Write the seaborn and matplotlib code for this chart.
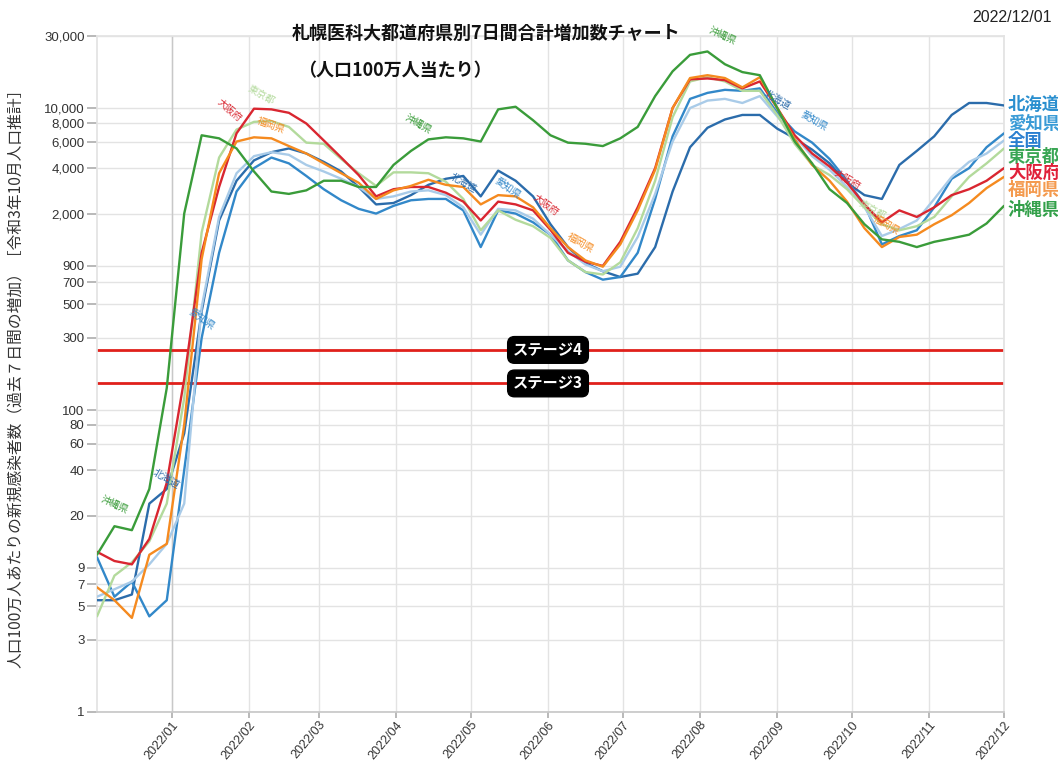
"""
Sapporo Medical Univ. prefecture chart (7-day new cases per 1M)
"""

import pandas as pd
import numpy as np
import seaborn as sns
import matplotlib as mpl
import matplotlib.pyplot as plt
import matplotlib.dates as mdates

# -----------------------------
# Data: weekly readings (cases per 1M, 7-day sum)
# -----------------------------
dates = pd.date_range('2021-12-02', '2022-12-01', freq='7D')

hokkaido = [5.5, 5.5, 6, 24, 30, 70, 450, 1800, 3300, 4500, 5100, 5400, 5000, 4400,
            3800, 3000, 2300, 2350, 2650, 3100, 3400, 3550, 2600, 3850, 3300, 2600,
            1700, 1200, 940, 830, 760, 800, 1200, 2800, 5500, 7400, 8400, 9000, 9000,
            7300, 6300, 5300, 4300, 3200, 2650, 2500, 4200, 5200, 6500, 9000, 10800,
            10800, 10400]
aichi = [10.6, 5.8, 7.3, 4.3, 5.5, 40, 300, 1100, 2800, 4000, 4700, 4300, 3550, 2900,
         2450, 2150, 2000, 2250, 2450, 2500, 2500, 2100, 1200, 2100, 2000, 1750,
         1450, 980, 820, 730, 760, 1100, 2500, 6500, 11500, 12600, 13200, 13000,
         13500, 9300, 7000, 5900, 4600, 3300, 2300, 1250, 1420, 1550, 2200, 3400,
         4000, 5500, 6800]
zenkoku = [5.8, 6.5, 7.3, 9.5, 13, 24, 480, 1900, 3700, 4800, 5100, 4900, 4200, 3800,
           3400, 3000, 2500, 2600, 2800, 2850, 2650, 2200, 1450, 2150, 2100, 1850,
           1450, 1130, 920, 830, 890, 1400, 2700, 6000, 10000, 11200, 11500, 10800,
           12000, 8800, 6500, 4800, 3900, 3000, 2200, 1420, 1580, 1800, 2500, 3500,
           4400, 5000, 6100]
tokyo = [4.3, 8, 9.8, 13.5, 24, 120, 1500, 4700, 7200, 8100, 8200, 7500, 5900, 5800,
         4600, 3700, 3050, 3750, 3750, 3700, 3250, 2500, 1550, 2100, 1820, 1650,
         1380, 980, 820, 790, 950, 1600, 3300, 8700, 15000, 16000, 15000, 13000,
         13000, 9000, 5800, 4200, 3600, 2900, 2200, 1700, 1550, 1650, 1900, 2600,
         3500, 4300, 5400]
osaka = [11.5, 10, 9.5, 14, 33, 160, 1100, 3000, 6800, 9900, 9800, 9300, 7900, 6100,
         4700, 3600, 2600, 2900, 3000, 3000, 2750, 2400, 1800, 2400, 2300, 2100,
         1560, 1100, 960, 900, 1300, 2200, 4000, 10000, 15500, 15700, 15300, 13500,
         15000, 10000, 6600, 5000, 4100, 3200, 2300, 1750, 2100, 1900, 2200, 2650,
         2900, 3300, 4000]
fukuoka = [6.7, 5.5, 4.2, 11, 13, 80, 1000, 3700, 6000, 6400, 6300, 5600, 5000, 4300,
           3700, 3200, 2500, 2850, 3050, 3350, 3100, 3000, 2300, 2650, 2600, 2200,
           1600, 1200, 980, 890, 1250, 2100, 3900, 10000, 15800, 16500, 15800, 13700,
           16000, 10000, 6200, 4200, 3300, 2400, 1600, 1200, 1400, 1450, 1700, 1950,
           2350, 2950, 3500]
okinawa = [11, 17, 16, 30, 140, 2000, 6600, 6300, 5400, 3800, 2800, 2700, 2850, 3300,
           3300, 3000, 3000, 4200, 5200, 6200, 6400, 6300, 6000, 9800, 10200, 8300,
           6600, 5900, 5800, 5600, 6300, 7500, 12000, 17500, 22500, 23700, 19500,
           17300, 16500, 10000, 6000, 4300, 2900, 2350, 1700, 1350, 1300, 1200, 1300,
           1370, 1450, 1720, 2250]

names = ['北海道', '愛知県', '全国', '東京都', '大阪府', '福岡県', '沖縄県']
series = [hokkaido, aichi, zenkoku, tokyo, osaka, fukuoka, okinawa]
line_colors = ['#2b6cab', '#3288c9', '#a9cbe8', '#b3da9c', '#d92630', '#f58a1f', '#3a9c3a']
label_colors = ['#2a8fcf', '#3a9bd6', '#2a7fd0', '#3aa655', '#e0203a', '#f49a4e', '#33a04a']

yticks = [1, 3, 5, 7, 9, 20, 40, 60, 80, 100, 300, 500, 700, 900, 2000, 4000, 6000,
          8000, 10000, 30000]
stages = [250, 150]
stage_names = ['ステージ4', 'ステージ3']

df = pd.concat([pd.DataFrame({'date': dates, 'value': v, 'pref': n})
                for n, v in zip(names, series)], ignore_index=True)

# -----------------------------
# Plot
# -----------------------------
sns.set_theme(style='white')
plt.rcParams['font.family'] = ['Noto Sans CJK JP', 'DejaVu Sans']

fig = plt.figure(figsize=(10.58, 7.67), dpi=100)
ax = fig.add_axes([97 / 1058, 1 - 712 / 767, 907 / 1058, 676 / 767])

ax.set_yscale('log')
ax.set_ylim(1, 30000)
ax.set_xlim(pd.Timestamp('2021-12-02'), pd.Timestamp('2022-12-01'))

# grid
for t in yticks:
    ax.axhline(t, color='#e3e3e3', lw=1, zorder=0)
months = pd.date_range('2022-01-01', '2022-12-01', freq='MS')
for m in months:
    ax.axvline(m, color='#e3e3e3', lw=1, zorder=0)
ax.axvline(pd.Timestamp('2022-01-01'), color='#c8c8c8', lw=1, zorder=0)

# stage lines
for s, sn in zip(stages, stage_names):
    ax.axhline(s, color='#e0201b', lw=2, zorder=2)
    ax.text(pd.Timestamp('2022-06-01'), s, sn, ha='center', va='center', color='white',
            fontsize=11, fontweight='bold', zorder=5,
            bbox=dict(boxstyle='round,pad=0.35,rounding_size=0.45', fc='black', ec='black'))

sns.lineplot(data=df, x='date', y='value', hue='pref', hue_order=names,
             palette=dict(zip(names, line_colors)), lw=1.7, legend=False, ax=ax, zorder=3)

ax.set_yticks(yticks)
ax.set_yticklabels([f'{t:,}' for t in yticks], fontfamily='Liberation Sans', fontsize=9.5,
                   color='#333333')
ax.yaxis.set_minor_locator(mpl.ticker.NullLocator())
ax.tick_params(axis='y', length=7, color='#b0b0b0', left=True, pad=2)

ax.set_xticks(months)
ax.xaxis.set_major_formatter(mdates.DateFormatter('%Y/%m'))
plt.setp(ax.get_xticklabels(), rotation=50, ha='right', rotation_mode='anchor',
         fontfamily='Liberation Sans', fontsize=9, color='#333333')
ax.tick_params(axis='x', length=4, color='#b0b0b0', bottom=True, pad=1)

for side in ['top', 'left', 'right']:
    ax.spines[side].set_color('#e3e3e3')
ax.spines['bottom'].set_color('#c8c8c8')
ax.set_xlabel('')
ax.set_ylabel('人口100万人あたりの新規感染者数（過去７日間の増加）［令和3年10月人口推計］',
              fontsize=11.3, color='#333333', labelpad=14)

# inline labels
inline = [
    ('沖縄県', '2021-12-09', 23.5, -25), ('北海道', '2021-12-30', 35, -30),
    ('愛知県', '2022-01-13', 400, -35), ('大阪府', '2022-01-24', 9700, -40),
    ('東京都', '2022-02-06', 12200, -30), ('福岡県', '2022-02-10', 7700, -20),
    ('沖縄県', '2022-04-10', 7900, -30), ('北海道', '2022-04-28', 3200, -30),
    ('愛知県', '2022-05-16', 2950, -35), ('大阪府', '2022-05-31', 2280, -35),
    ('福岡県', '2022-06-14', 1280, -30), ('沖縄県', '2022-08-10', 30000, -25),
    ('北海道', '2022-09-01', 11300, -30), ('愛知県', '2022-09-16', 8300, -30),
    ('大阪府', '2022-09-29', 3340, -30), ('東京都', '2022-10-09', 2110, -30),
    ('福岡県', '2022-10-15', 1680, -30),
]
cmap = dict(zip(names, line_colors))
for n, d, v, r in inline:
    ax.text(pd.Timestamp(d), v, n, color=cmap[n], fontsize=7, rotation=r,
            ha='center', va='center', zorder=4)

# right-hand labels
label_y = [105, 124, 141, 157, 173, 190, 210]
for n, c, py in zip(names, label_colors, label_y):
    fig.text(1008 / 1058, 1 - py / 767, n, color=c, fontsize=12.5, fontweight='bold',
             ha='left', va='center')

fig.text(486 / 1058, 1 - 33 / 767, '札幌医科大都道府県別7日間合計増加数チャート',
         ha='center', va='center', fontsize=13, fontweight='bold', color='#111111')
fig.text(298 / 1058, 1 - 70 / 767, '（人口100万人当たり）', ha='left', va='center',
         fontsize=13, fontweight='bold', color='#111111')
fig.text(1052 / 1058, 1 - 18 / 767, '2022/12/01', ha='right', va='center',
         fontsize=11.5, fontfamily='Liberation Sans', color='#222222')

fig.savefig('out.png', dpi=100)
